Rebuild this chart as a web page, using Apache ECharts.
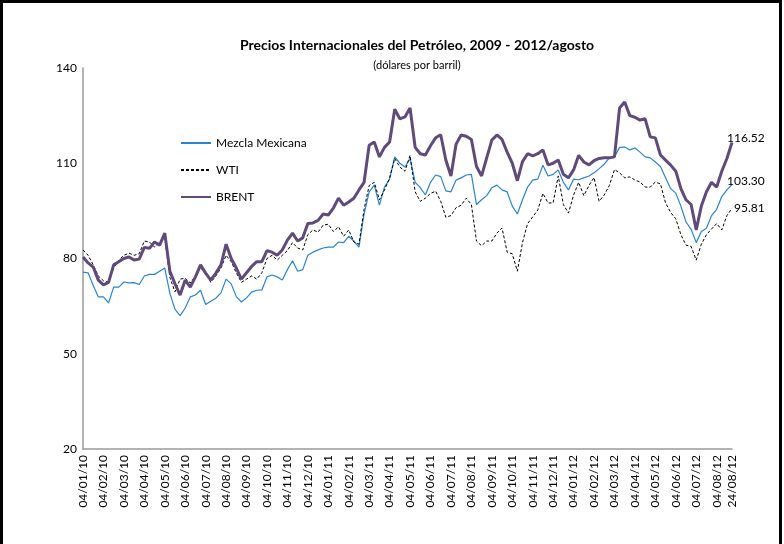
<!DOCTYPE html>
<html>
<head>
<meta charset="utf-8">
<script src="https://cdn.jsdelivr.net/npm/echarts@6/dist/echarts.min.js"></script>
<style>
  html, body { margin: 0; padding: 0; background: #fff; }
  #chart { width: 784px; height: 544px; }
</style>
</head>
<body>
<div id="chart"></div>
<script>
// months shown on the axis (dd = 04), weekly points inside each month
const months = ['01/10','02/10','03/10','04/10','05/10','06/10','07/10','08/10','09/10','10/10','11/10','12/10',
  '01/11','02/11','03/11','04/11','05/11','06/11','07/11','08/11','09/11','10/11','11/11','12/11',
  '01/12','02/12','03/12','04/12','05/12','06/12','07/12','08/12'];
const weekDays = ['04', '11', '18', '25'];
const lastDay = '24/08/12';

const mezcla = [75.7,75.5,71.5,67.9,67.9,66,71,71,72.6,72.3,72.4,71.8,74.5,75,75,76,
  77,69,64,62,64.4,67.9,68.5,70,65.5,66.5,67.5,69.2,73.5,72,68,66.3,
  67.6,69.4,70,70.1,74.2,74.8,74.2,73.2,76.5,79.3,76,76.5,81,82,82.7,83.3,
  83.6,83.6,85.2,85,87,85.5,83.6,94,101,103.1,96.8,102.5,105,112,110,108.8,
  111.5,104,102.3,100,104,106.3,105.8,101.3,101,104.7,105.4,106.3,106.5,97,98.5,99.8,
  102.3,103.1,101.6,101,96.5,94,98.5,102.5,104.7,105,109.4,106,106.5,107.9,104,101.6,
  105,104.8,105.4,106,107,108.3,109.7,111.7,112,115,115.1,114.2,114.8,113.5,112,111.7,
  110.4,109,105.4,102,100.6,96.5,91.5,89.2,85,88.5,89.5,93.5,95.5,99.5,101.6,103.30];

const wti = [82.7,81,78,74.5,73,72.5,77,79.5,81,81.7,81,81.5,85.5,85.2,83.6,85.2,
  86.5,74,69.5,73.5,73.8,72.3,74.5,77,75.5,72.5,74.5,77,81,79,75.5,72.5,
  73.5,74.5,73.5,75.5,80,81,79.5,81,82.5,85,83.3,82.7,87.5,89,88.3,90.5,
  90.8,88.5,90,87,89,85.2,84.5,95.5,103,104,98.5,101.6,105.4,111.5,108.8,107.5,
  112.5,101,98,99,100.5,101.2,98,93,93.5,96,96.8,99,97,85.5,84,85.5,
  85.5,88,89.6,82,81.5,76,85,91,93.1,95.3,100.5,97.5,97.5,106,97,94.3,
  100,104,99.8,103,105.5,98,100,103,108,107,105.4,105.7,104.7,104.1,102.5,102.5,
  104.1,103.5,97.5,94.5,92.5,87.5,84.2,83.8,79.5,84.5,87.5,89.3,91,89,93.5,95.81];

const brent = [80.5,78.6,77.3,73.2,71.7,72.5,78,79,80,80.5,79.5,79.8,83.5,83.2,85.2,84.2,
  88,76,72,68.5,73.2,71,74.2,78,75.4,73.2,75.4,78,84.5,80,77,73.5,
  75.5,77.5,79,79,82.5,82,81,82.7,85.8,88,85.5,86.5,91,91.2,92,94,
  93.7,95.9,99,96.8,97.8,99,101.6,104,115.7,116.7,112,115,116.7,127,124,124.6,
  127.4,115,113,112.6,115.5,118,119,111,106,116,118.9,118.5,117.5,109,106,111.7,
  117.3,118.9,117.5,113.5,110,104.5,110.5,113,112.3,113,114.2,109.5,110,111,106.5,105.4,
  107.9,112.5,110.4,109.5,110.8,111.5,111.7,111.7,112,127.4,129.3,125,124.5,123.6,124,118.3,
  118,112.6,111,109.4,107.5,102,98.5,97,89,96.5,101,104,102.5,107.5,111.5,116.52];

const yTicks = { min: 20, max: 140, step: 30 };

// weekly categories built from the month list
let categories = [];
months.forEach((m, idx) => {
  weekDays.forEach((d, k) => {
    if (idx === months.length - 1 && k === weekDays.length - 1) {
      categories.push(lastDay);
    } else {
      categories.push(d + '/' + m);
    }
  });
});
const lastIdx = categories.length - 1;

const font = 'Lato, "Noto Sans", sans-serif';
const chart = echarts.init(document.getElementById('chart'));

const endLabel = (offset) => ({
  show: true,
  formatter: p => Number(p.value).toFixed(2),
  color: '#000', fontFamily: font, fontSize: 12,
  offset: offset, distance: 0
});

let option = {
  backgroundColor: '#fff',
  animation: false,
  textStyle: { fontFamily: font },
  title: {
    text: 'Precios Internacionales del Petróleo, 2009 - 2012/agosto',
    subtext: '(dólares por barril)',
    left: 412,
    textAlign: 'center',
    top: 33,
    itemGap: 8,
    textStyle: { fontFamily: font, fontSize: 14, fontWeight: 'bold', color: '#000' },
    subtextStyle: { fontFamily: font, fontSize: 11, color: '#000' }
  },
  legend: {
    orient: 'vertical',
    left: 175,
    top: 132,
    itemWidth: 30,
    itemHeight: 12,
    itemGap: 15,
    itemStyle: { opacity: 0 },
    textStyle: { fontFamily: font, fontSize: 12, color: '#000' },
    data: ['Mezcla Mexicana', 'WTI', 'BRENT']
  },
  grid: { left: 83, right: 52, top: 68, bottom: 95, containLabel: false },
  xAxis: {
    type: 'category',
    boundaryGap: false,
    data: categories,
    axisLine: { lineStyle: { color: '#9a9a9a', width: 1.5 } },
    axisTick: { show: false },
    axisLabel: {
      rotate: 90,
      margin: 6,
      fontFamily: font,
      fontSize: 12,
      color: '#000',
      interval: (index, value) => value.startsWith('04/') || index === lastIdx
    },
    splitLine: { show: false }
  },
  yAxis: {
    type: 'value',
    min: yTicks.min,
    max: yTicks.max,
    interval: yTicks.step,
    axisLine: { show: true, lineStyle: { color: '#9a9a9a', width: 1.5 } },
    axisTick: { show: false },
    axisLabel: { margin: 6, fontFamily: font, fontSize: 12, color: '#000' },
    splitLine: { show: false }
  },
  series: [
    {
      name: 'Mezcla Mexicana',
      type: 'line',
      data: mezcla,
      symbol: 'none',
      color: '#2a84d4',
      lineStyle: { color: '#2a84d4', width: 1.2 },
      endLabel: endLabel([-5, -3])
    },
    {
      name: 'WTI',
      type: 'line',
      data: wti,
      symbol: 'none',
      color: '#000',
      lineStyle: { color: '#000', width: 1, type: [3, 2] },
      endLabel: endLabel([2, 0])
    },
    {
      name: 'BRENT',
      type: 'line',
      data: brent,
      symbol: 'none',
      color: '#604a7b',
      lineStyle: { color: '#604a7b', width: 3 },
      endLabel: endLabel([-5, -4])
    }
  ],
  graphic: [
    {
      type: 'rect',
      silent: true,
      shape: { x: 1.5, y: 1.5, width: 779, height: 600 },
      style: { fill: 'none', stroke: '#000', lineWidth: 3 }
    }
  ]
};

chart.setOption(option);
</script>
</body>
</html>
